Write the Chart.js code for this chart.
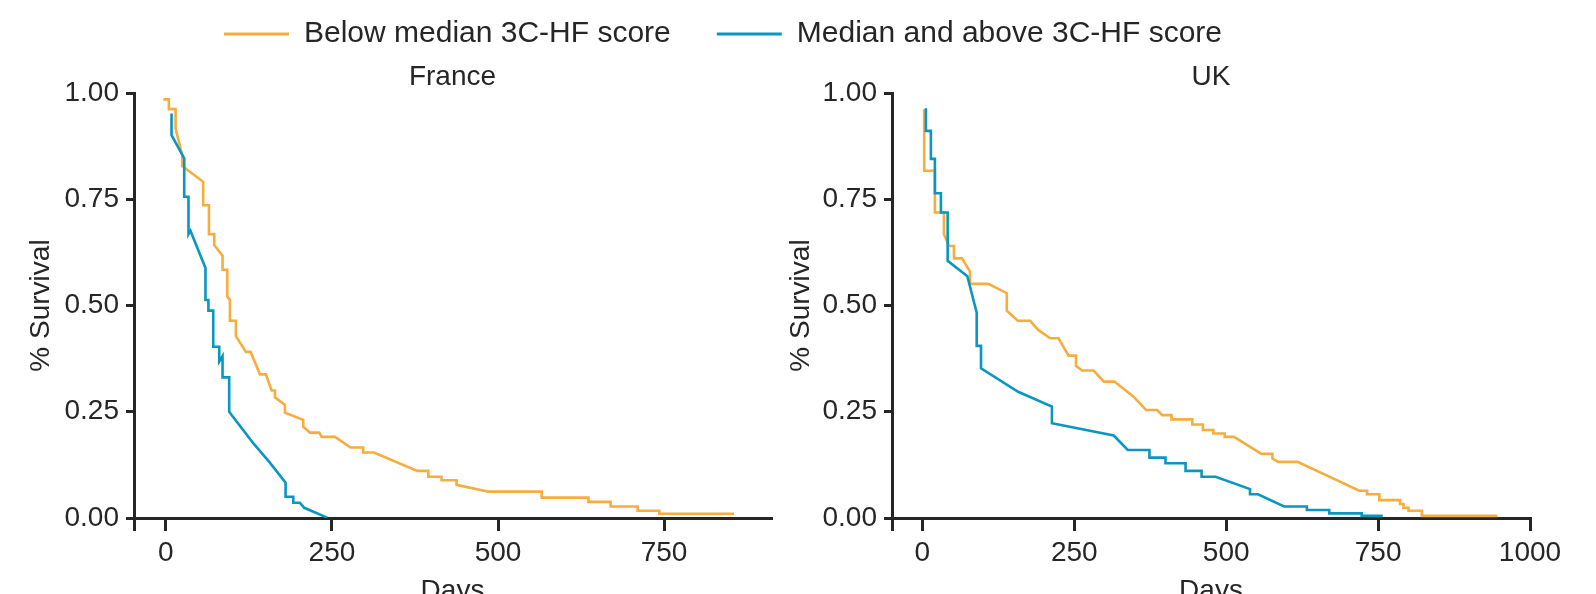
<!DOCTYPE html>
<html>
<head>
<meta charset="utf-8">
<script src="https://cdn.jsdelivr.net/npm/chart.js"></script>
<style>
  html, body { margin: 0; padding: 0; background: #fff; overflow: hidden; }
  body { width: 1596px; height: 594px; position: relative; }
  canvas { position: absolute; }
  #legendChart { left: 0; top: -27px; }
  #franceChart { left: 0; top: 0; }
  #ukChart { left: 760px; top: 0; }
</style>
</head>
<body>
<canvas id="ukChart" width="836" height="620"></canvas>
<canvas id="franceChart" width="798" height="620"></canvas>
<canvas id="legendChart" width="1446" height="140"></canvas>
<script>
// Kaplan-Meier curves: [days, survival]
const franceBelow = [
  [-4, 0.985], [4.5, 0.985], [4.5, 0.962], [14.6, 0.962], [14.6, 0.917], [24.6, 0.854], [24.6, 0.828],
  [56.2, 0.791], [56.2, 0.736], [64.8, 0.736], [64.8, 0.668], [72.8, 0.668], [72.8, 0.642], [85.3, 0.617],
  [85.3, 0.584], [92.4, 0.584], [92.4, 0.521], [96.4, 0.513], [96.4, 0.464], [105.4, 0.464], [105.4, 0.428],
  [120.5, 0.391], [127.5, 0.391], [141.6, 0.338], [150.6, 0.338], [159.1, 0.300], [164.2, 0.300], [164.2, 0.284],
  [179.2, 0.266], [179.2, 0.248], [206.8, 0.231], [206.8, 0.215], [216.9, 0.201], [230.9, 0.201], [234.5, 0.191],
  [254.5, 0.191], [278, 0.166], [297, 0.166], [297, 0.154], [313.3, 0.154], [378.5, 0.111], [395.1, 0.111],
  [395.1, 0.097], [415, 0.097], [415, 0.089], [437.6, 0.089], [437.6, 0.078], [486, 0.062], [565.8, 0.062],
  [565.8, 0.048], [636, 0.048], [636, 0.038], [669.6, 0.038], [669.6, 0.027], [710.2, 0.027], [710.2, 0.017],
  [742.9, 0.017], [742.9, 0.010], [855.4, 0.010]
]
const franceAbove = [
  [8.5, 0.952], [8.5, 0.901], [27.6, 0.846], [27.6, 0.756], [34, 0.756], [34, 0.668], [37, 0.676],
  [59.6, 0.588], [59.6, 0.513], [64, 0.513], [64, 0.488], [71.3, 0.488], [71.3, 0.403], [80.3, 0.403],
  [80.3, 0.368], [85.3, 0.381], [85.3, 0.331], [95.3, 0.331], [95.3, 0.250], [131.5, 0.176], [155.6, 0.132],
  [180.2, 0.083], [180.2, 0.050], [191.8, 0.050], [191.8, 0.036], [201.8, 0.036], [208.3, 0.024], [242.9, 0.001]
]
const ukBelow = [
  [3, 0.962], [3, 0.817], [20.6, 0.817], [20.6, 0.719], [35.5, 0.719], [35.5, 0.668], [43.7, 0.640],
  [52, 0.640], [52, 0.611], [65.2, 0.611], [78.4, 0.580], [78.4, 0.551], [108.6, 0.551], [138.9, 0.529],
  [138.9, 0.488], [157, 0.464], [177.4, 0.464], [191, 0.442], [210.4, 0.423], [224, 0.423], [240.6, 0.382],
  [252.8, 0.382], [252.8, 0.358], [262.7, 0.347], [281.9, 0.347], [298.4, 0.321], [316, 0.321], [347.9, 0.285],
  [368.3, 0.254], [386.4, 0.254], [394.7, 0.242], [410, 0.242], [410, 0.232], [444.2, 0.232], [444.2, 0.220],
  [461.7, 0.220], [461.7, 0.207], [478.8, 0.207], [478.8, 0.199], [497.5, 0.199], [497.5, 0.191], [512.8, 0.191],
  [558, 0.151], [576.1, 0.151], [576.1, 0.140], [585.4, 0.132], [617.4, 0.132], [719, 0.064], [731.8, 0.064],
  [731.8, 0.056], [752, 0.056], [752, 0.042], [786.2, 0.042], [786.2, 0.033], [791.7, 0.033], [791.7, 0.024],
  [800, 0.024], [800, 0.017], [822, 0.017], [822, 0.005], [946.3, 0.005]
]
const ukAbove = [
  [5.8, 0.964], [5.8, 0.911], [14, 0.911], [14, 0.845], [20.6, 0.845], [20.6, 0.764], [30.5, 0.764],
  [30.5, 0.719], [41.6, 0.719], [41.6, 0.605], [74, 0.569], [89.4, 0.483], [89.4, 0.405], [96.5, 0.405],
  [96.5, 0.352], [157.6, 0.297], [213.2, 0.262], [213.2, 0.223], [314.9, 0.194], [338, 0.160], [373.7, 0.160],
  [373.7, 0.142], [400.1, 0.142], [400.1, 0.129], [433.1, 0.129], [433.1, 0.111], [459.5, 0.111], [459.5, 0.097],
  [482.6, 0.097], [539.2, 0.068], [539.2, 0.056], [552.4, 0.056], [595.3, 0.027], [632.8, 0.027], [632.8, 0.019],
  [669.6, 0.019], [669.6, 0.011], [723, 0.011], [723, 0.005], [757.7, 0.005]
]

const seriesLabels = ['Below median 3C-HF score', 'Median and above 3C-HF score']
const seriesColors = ['#F6AD3E', '#0A96C1']
const survivalTicks = [0, 0.25, 0.5, 0.75, 1]
const franceDayTicks = [0, 250, 500, 750]
const ukDayTicks = [0, 250, 500, 750, 1000]

const ink = '#262626'
Chart.defaults.font.family = "'Liberation Sans', Arial, sans-serif"
Chart.defaults.font.size = 28
Chart.defaults.color = ink

function toPoints(pairs) {
    return pairs.map(p => ({ x: p[0], y: p[1] }))
}

function makePanel(id, title, below, above, xMin, xMax, dayTicks, yAxisWidth, padRight) {
    const ctx = document.getElementById(id).getContext('2d')
    return new Chart(ctx, {
        type: 'line',
        data: {
            datasets: [
                { label: seriesLabels[1], data: toPoints(above), borderColor: seriesColors[1], borderWidth: 2.6, pointRadius: 0, tension: 0, fill: false },
                { label: seriesLabels[0], data: toPoints(below), borderColor: seriesColors[0], borderWidth: 2.6, pointRadius: 0, tension: 0, fill: false }
            ]
        },
        options: {
            responsive: false,
            animation: false,
            layout: { padding: { top: 0, right: padRight, bottom: 0, left: 0 } },
            plugins: {
                legend: { display: false },
                tooltip: { enabled: false },
                title: {
                    display: true,
                    text: title,
                    fullSize: false,
                    color: ink,
                    font: { size: 28, weight: 'normal', lineHeight: 1 },
                    padding: { top: 63, bottom: 2 }
                }
            },
            scales: {
                x: {
                    type: 'linear',
                    min: xMin,
                    max: xMax,
                    afterBuildTicks: s => { s.ticks = [xMin].concat(dayTicks).map(v => ({ value: v })) },
                    afterFit: s => { s.height = 102 },
                    ticks: {
                        padding: 5,
                        color: ink,
                        font: { size: 28 },
                        callback: v => v < 0 ? '' : v
                    },
                    grid: { drawOnChartArea: false, drawTicks: true, tickLength: 13, color: ink, lineWidth: 3 },
                    border: { display: true, color: ink, width: 3 },
                    title: { display: true, text: 'Days', color: ink, font: { size: 28 }, padding: { top: 0, bottom: 12 } }
                },
                y: {
                    min: 0,
                    max: 1,
                    afterBuildTicks: s => { s.ticks = survivalTicks.map(v => ({ value: v })) },
                    afterFit: s => { s.width = yAxisWidth },
                    ticks: {
                        padding: 7,
                        color: ink,
                        font: { size: 28 },
                        callback: v => v.toFixed(2)
                    },
                    grid: { drawOnChartArea: false, drawTicks: true, tickLength: 8, color: ink, lineWidth: 3 },
                    border: { display: true, color: ink, width: 3 },
                    title: { display: true, text: '% Survival', color: ink, font: { size: 28 }, padding: { top: 24, bottom: 0 } }
                }
            }
        }
    })
}

makePanel('franceChart', 'France', franceBelow, franceAbove, -48, 911, franceDayTicks, 134, 27)
makePanel('ukChart', 'UK', ukBelow, ukAbove, -50, 1000, ukDayTicks, 132, 66)

// shared legend above both panels
new Chart(document.getElementById('legendChart').getContext('2d'), {
    type: 'line',
    data: {
        datasets: seriesLabels.map((label, i) => ({
            label: label, data: [], backgroundColor: seriesColors[i], borderColor: seriesColors[i], borderWidth: 0
        }))
    },
    options: {
        responsive: false,
        animation: false,
        layout: { padding: { top: 0 } },
        scales: { x: { display: false }, y: { display: false } },
        plugins: {
            tooltip: { enabled: false },
            legend: {
                display: true,
                position: 'top',
                maxHeight: 130,
                onClick: null,
                labels: { boxWidth: 65, boxHeight: 3, padding: 46, color: ink, font: { size: 30, lineHeight: 1 } }
            }
        }
    }
})
</script>
</body>
</html>
